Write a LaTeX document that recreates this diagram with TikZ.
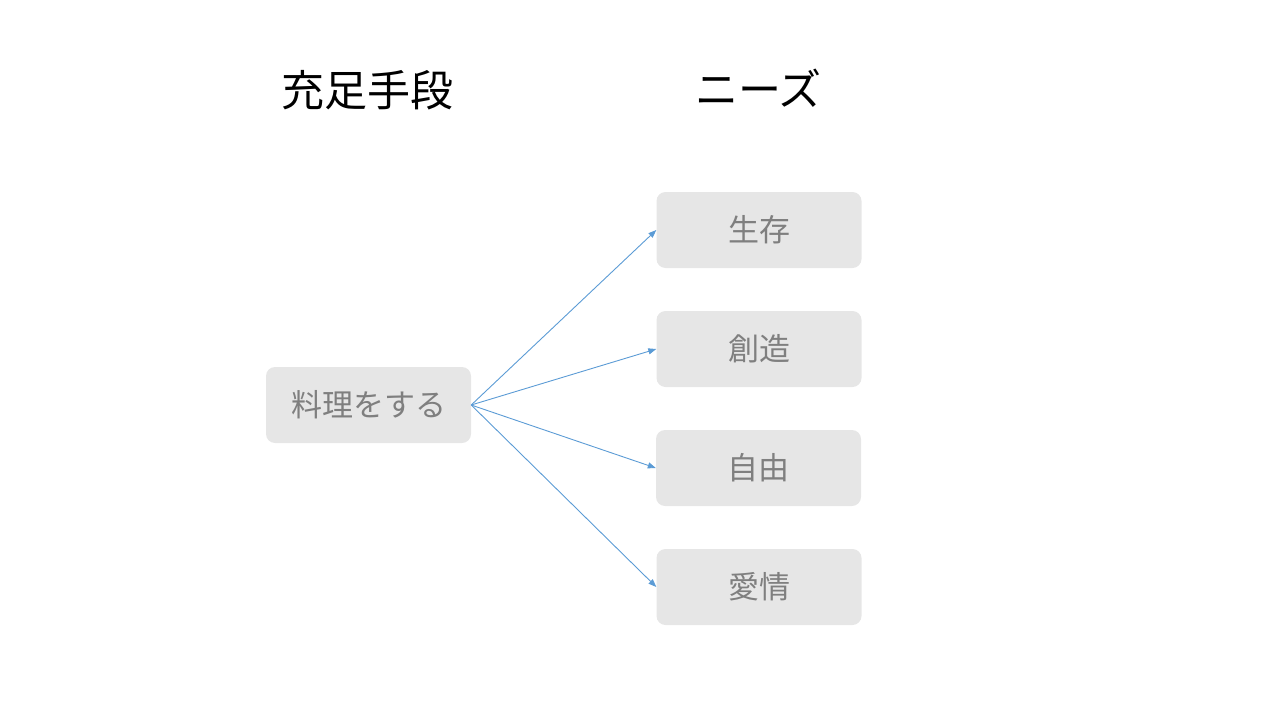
\documentclass[tikz,border=0pt]{standalone}
\usepackage{fontspec}
\newfontfamily\cjk{Noto Sans CJK JP}
\usetikzlibrary{arrows.meta}
\definecolor{boxfill}{HTML}{E6E6E6}
\definecolor{boxtext}{HTML}{7F7F7F}
\definecolor{arrowblue}{HTML}{5B9BD5}
\tikzset{
  box/.style={draw=none, fill=boxfill, rounded corners=9pt, minimum width=205pt, minimum height=76pt, inner sep=0pt, text=boxtext, font=\cjk\fontsize{31}{36}\selectfont},
  heading/.style={inner sep=0pt, font=\cjk\fontsize{43}{50}\selectfont, text=black},
  link/.style={draw=arrowblue, line width=0.9pt, -{Triangle[length=8pt,width=6pt]}}
}
\begin{document}
\begin{tikzpicture}[x=1pt,y=-1pt]
\useasboundingbox (0,0) rectangle (1280,720);
\node[heading] (h1) at (367.5,90) {充足手段};
\node[heading] (h2) at (758.5,88) {ニーズ};
\node[box] (src) at (368.5,405) {料理をする};
\node[box] (n1) at (759,230) {生存};
\node[box] (n2) at (759,349) {創造};
\node[box] (n3) at (758.5,468) {自由};
\node[box] (n4) at (759,587) {愛情};
\draw[link] (src.east) -- (n1.west);
\draw[link] (src.east) -- (n2.west);
\draw[link] (src.east) -- (n3.west);
\draw[link] (src.east) -- (n4.west);
\end{tikzpicture}
\end{document}
